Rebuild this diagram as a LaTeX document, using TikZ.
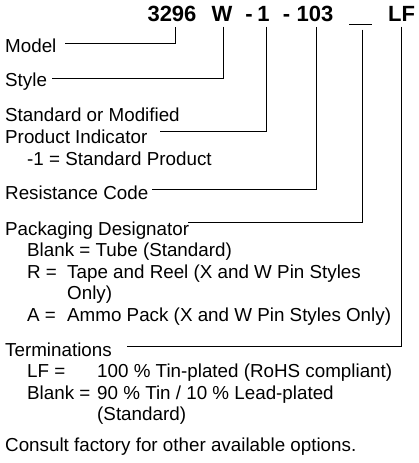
\documentclass[tikz,border=0pt]{standalone}
\usepackage{fontspec}
\setmainfont{Liberation Sans}
\usetikzlibrary{positioning}

\begin{document}
\begin{tikzpicture}[
        x=1pt, y=-1pt,
        partno/.style={font=\fontsize{22}{24}\selectfont\bfseries, inner sep=0pt, outer ysep=5pt, anchor=base},
        field/.style={font=\fontsize{18.8}{21.5}\selectfont, inner sep=0pt, anchor=base west},
        lead/.style={draw=black, line width=1pt}
    ]
        \useasboundingbox (0,0) rectangle (419,463);

        % --- PART NUMBER ---
        \node[partno] (p3296) at (172,21.7) {3296};
        \node[partno] (pstyle) at (222,21.7) {W};
        \node[partno] (pdash1) at (249,21.7) {-};
        \node[partno] (pstd) at (263.5,21.7) {1};
        \node[partno] (pdash2) at (286.5,21.7) {-};
        \node[partno] (pres) at (315,21.7) {103};
        \node[partno] (ppack) at (360.5,21.7) {\rule[-3pt]{23pt}{1pt}};
        \node[partno] (pterm) at (401.5,21.7) {LF};

        % --- FIELDS ---
        \node[field] (model) at (5,52.7) {Model};
        \node[field] (style) at (5,86) {Style};
        \node[field] (stdmod) at (5,121.5) {Standard or Modified};
        \node[field] (prodind) at (5,143) {Product Indicator};
        \node[field] (stdval) at (27,165) {-1 = Standard Product};
        \node[field] (rescode) at (5,199.5) {Resistance Code};
        \node[field] (packdes) at (5,235) {Packaging Designator};
        \node[field] (packblank) at (27,256.5) {Blank = Tube (Standard)};
        \node[field] (packrkey) at (27,278) {R =};
        \node[field] (packrval) at (67,278) {Tape and Reel (X and W Pin Styles};
        \node[field] (packronly) at (67,299.5) {Only)};
        \node[field] (packakey) at (27,321) {A =};
        \node[field] (packaval) at (67,321) {Ammo Pack (X and W Pin Styles Only)};
        \node[field] (term) at (5,356) {Terminations};
        \node[field] (termlfkey) at (27,377.5) {LF =};
        \node[field] (termlfval) at (97,377.5) {100 \% Tin-plated (RoHS compliant)};
        \node[field] (termbkey) at (27,399) {Blank =};
        \node[field] (termbval) at (97,399) {90 \% Tin / 10 \% Lead-plated};
        \node[field] (termbstd) at (97,420.5) {(Standard)};
        \node[field] (consult) at (5,451) {Consult factory for other available options.};

        % --- LEADER ENDS ---
        \coordinate (model-tip) at (65,43.3);
        \coordinate (style-tip) at (52,78.3);
        \coordinate (prod-tip) at (160,131.7);
        \coordinate (res-tip) at (152,189);
        \coordinate (pack-tip) at (188,222.7);
        \coordinate (term-tip) at (127,346.7);

        % --- LEADERS ---
        \draw[lead] ([xshift=3pt]p3296.south) |- (model-tip);
        \draw[lead] ([xshift=1.3pt]pstyle.south) |- (style-tip);
        \draw[lead] ([xshift=2.5pt]pstd.south) |- (prod-tip);
        \draw[lead] ([xshift=1pt]pres.south) |- (res-tip);
        \draw[lead] ([xshift=1.5pt]ppack.south) |- (pack-tip);
        \draw[lead] ([xshift=-0.5pt]pterm.south) |- (term-tip);

    \end{tikzpicture}
\end{document}
